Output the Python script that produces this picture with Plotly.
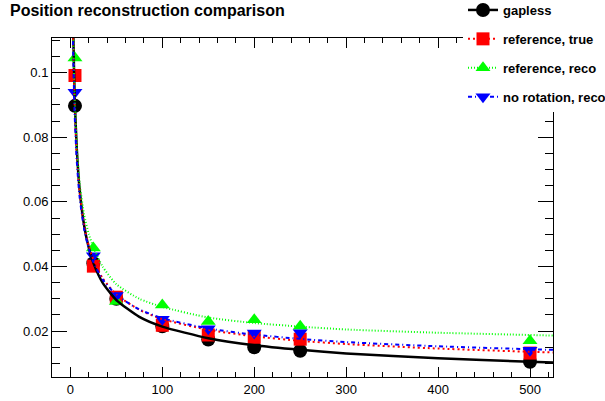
import plotly.graph_objects as go

# ---- data ----
points_x = [5, 25, 50, 100, 150, 200, 250, 500]
gapless = [0.0897, 0.0410, 0.0300, 0.0215, 0.0174, 0.0150, 0.0139, 0.0105]
ref_true = [0.0991, 0.0401, 0.0305, 0.0218, 0.0188, 0.0181, 0.0175, 0.0132]
ref_reco = [0.1045, 0.0457, 0.0292, 0.0281, 0.0230, 0.0235, 0.0215, 0.0170]
norot_reco = [0.0939, 0.0433, 0.0310, 0.0237, 0.0207, 0.0194, 0.0195, 0.0141]

curve_x = [2.5, 3, 4, 5, 7, 10, 15, 20, 25, 35, 50, 75, 100, 150, 200, 250, 300, 400, 500, 525]
curve_gapless = [0.1263, 0.1154, 0.1002, 0.0898, 0.0762, 0.0640, 0.0526, 0.0458, 0.0411, 0.0350,
                 0.0296, 0.0244, 0.0214, 0.0178, 0.0156, 0.0142, 0.0131, 0.0116, 0.0105, 0.0103]
curve_ref_true = [0.1214, 0.1112, 0.0971, 0.0874, 0.0747, 0.0634, 0.0527, 0.0464, 0.0421, 0.0364,
                  0.0313, 0.0266, 0.0237, 0.0204, 0.0184, 0.0170, 0.0160, 0.0146, 0.0136, 0.0134]
curve_ref_reco = [0.1250, 0.1150, 0.0990, 0.0900, 0.0770, 0.0660, 0.0560, 0.0500, 0.0460, 0.0400,
                  0.0345, 0.0300, 0.0275, 0.0242, 0.0225, 0.0214, 0.0205, 0.0195, 0.0188, 0.0186]
curve_norot_reco = [0.1166, 0.1071, 0.0936, 0.0844, 0.0724, 0.0616, 0.0515, 0.0455, 0.0414, 0.0360,
                    0.0312, 0.0267, 0.0240, 0.0208, 0.0189, 0.0176, 0.0166, 0.0153, 0.0144, 0.0142]

names = ["gapless", "reference, true", "reference, reco", "no rotation, reco"]
colors = ["#000000", "#ff0000", "#00ff00", "#0000ff"]
symbols = ["circle", "square", "triangle-up", "triangle-down"]
sizes = [14, 13, 13, 13]
dashes = ["solid", "2px,3px", "1px,2px", "4px,3px,1px,3px"]
widths = [2.5, 2, 2, 2]
point_sets = [gapless, ref_true, ref_reco, norot_reco]
curve_sets = [curve_gapless, curve_ref_true, curve_ref_reco, curve_norot_reco]

fig = go.Figure()

# markers first
for i in range(4):
    fig.add_trace(go.Scatter(
        x=points_x, y=point_sets[i], mode="markers",
        marker=dict(symbol=symbols[i], size=sizes[i], color=colors[i], line=dict(width=0)),
        showlegend=False, hoverinfo="skip"))

# fit curves on top
for i in range(4):
    fig.add_trace(go.Scatter(
        x=curve_x, y=curve_sets[i], mode="lines",
        line=dict(color=colors[i], width=widths[i], dash=dashes[i], shape="spline", smoothing=0.6),
        showlegend=False, hoverinfo="skip"))

# legend entries
for i in range(4):
    fig.add_trace(go.Scatter(
        x=[None], y=[None], mode="lines+markers", name=names[i], legendgroup=f"g{i}",
        line=dict(color=colors[i], width=widths[i], dash=dashes[i]),
        marker=dict(symbol=symbols[i], size=sizes[i], color=colors[i], line=dict(width=0))))

axis_common = dict(
    showline=True, linecolor="black", linewidth=1, mirror="ticks",
    ticks="inside", tickcolor="black", showgrid=False, zeroline=False,
    tickfont=dict(family="Liberation Sans, Arial", size=13, color="black"),
)

fig.update_xaxes(range=[-20, 525], dtick=100, tick0=0, ticklen=10,
                 minor=dict(dtick=20, ticks="inside", ticklen=5, tickcolor="black"),
                 **axis_common)
fig.update_yaxes(range=[0.0058, 0.1107], dtick=0.02, tick0=0, ticklen=15,
                 minor=dict(dtick=0.005, ticks="inside", ticklen=8, tickcolor="black"),
                 **axis_common)

fig.update_layout(
    width=605, height=401,
    margin=dict(l=52, r=52, t=38, b=24, autoexpand=False),
    paper_bgcolor="white", plot_bgcolor="white",
    title=dict(text="<b>Position reconstruction comparison</b>", x=10/605, xanchor="left",
               xref="container", yref="container", y=1 - 10/401, yanchor="middle",
               font=dict(family="Liberation Sans, Arial", size=16, color="black")),
    legend=dict(x=(463 - 52) / 501, xanchor="left", y=1 + 43/339, yanchor="top",
                bgcolor="white", borderwidth=0, tracegroupgap=9, traceorder="grouped",
                font=dict(family="Liberation Sans, Arial", size=13, color="black", weight="bold"),
                itemwidth=30),
    showlegend=True,
)

fig.write_html("out.html")
